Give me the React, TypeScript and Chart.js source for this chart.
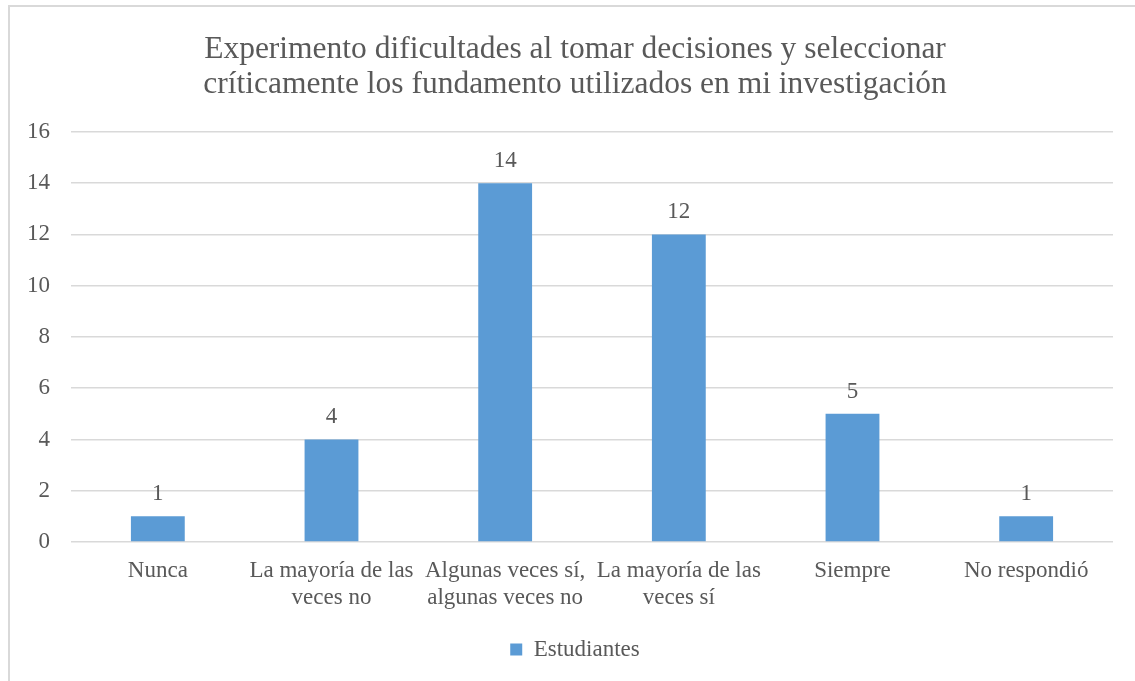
import React, { useEffect, useRef } from "react";
import { Chart, registerables } from "chart.js";

Chart.register(...registerables);

const titleLines = [
  "Experimento dificultades al tomar decisiones y seleccionar",
  "críticamente los fundamento utilizados en mi investigación",
];
const categories: string[][] = [
  ["Nunca"],
  ["La mayoría de las", "veces no"],
  ["Algunas veces sí,", "algunas veces no"],
  ["La mayoría de las", "veces sí"],
  ["Siempre"],
  ["No respondió"],
];
const seriesName = "Estudiantes";
const values = [1, 4, 14, 12, 5, 1];
const yMin = 0;
const yMax = 16;
const yStep = 2;

const FONT = "'Liberation Serif', 'Times New Roman', serif";
const TEXT = "#595959";
const BAR = "#5B9BD5";
const GRID = "#D9D9D9";

const dataLabels = {
  id: "dataLabels",
  afterDatasetsDraw(chart: any) {
    const ctx = chart.ctx;
    ctx.save();
    ctx.font = `23px ${FONT}`;
    ctx.fillStyle = TEXT;
    ctx.textAlign = "center";
    ctx.textBaseline = "alphabetic";
    chart.data.datasets.forEach((ds: any, i: number) => {
      const meta = chart.getDatasetMeta(i);
      meta.data.forEach((el: any, j: number) => {
        ctx.fillText(String(ds.data[j]), el.x, el.y - 16);
      });
    });
    ctx.restore();
  },
};

export default function App() {
  const ref = useRef<HTMLCanvasElement | null>(null);
  useEffect(() => {
    if (!ref.current) return;
    const chart = new Chart(ref.current, {
      type: "bar",
      data: {
        labels: categories,
        datasets: [
          {
            label: seriesName,
            data: values,
            backgroundColor: BAR,
            borderWidth: 0,
            barPercentage: 0.31,
            categoryPercentage: 1,
          },
        ],
      },
      options: {
        responsive: false,
        animation: false,
        layout: { padding: { left: 0, right: 0, top: 0, bottom: 10 } },
        plugins: {
          title: {
            display: true,
            text: titleLines,
            color: TEXT,
            font: { family: FONT, size: 31.5, weight: "normal", lineHeight: 1.11 },
            padding: { top: 25, bottom: 30 },
          },
          legend: {
            display: true,
            position: "bottom",
            labels: {
              color: TEXT,
              font: { family: FONT, size: 23 },
              boxWidth: 12,
              boxHeight: 12,
              padding: 10,
            },
          },
          tooltip: { enabled: false },
        },
        scales: {
          x: {
            grid: { display: false, drawTicks: false },
            border: { display: false },
            ticks: {
              color: TEXT,
              font: { family: FONT, size: 23, lineHeight: 1.2 },
              padding: 15,
              maxRotation: 0,
              autoSkip: false,
            },
            afterFit: (s: any) => {
              s.height = 86;
            },
          },
          y: {
            min: yMin,
            max: yMax,
            grid: { color: GRID, lineWidth: 1.5, drawTicks: false },
            border: { display: false },
            ticks: {
              stepSize: yStep,
              color: TEXT,
              font: { family: FONT, size: 23 },
              padding: 21,
            },
            afterFit: (s: any) => {
              s.width = 61;
            },
          },
          spacer: {
            type: "linear",
            position: "right",
            display: true,
            grid: { display: false, drawOnChartArea: false, drawTicks: false },
            border: { display: false },
            ticks: { display: false },
            afterFit: (s: any) => {
              s.width = 27;
            },
          },
        },
      },
      plugins: [dataLabels],
    });
    return () => chart.destroy();
  }, []);

  return (
    <div
      style={{
        position: "fixed",
        left: 0,
        top: 0,
        width: 1135,
        height: 681,
        overflow: "hidden",
        background: "#fff",
      }}
    >
      <div
        style={{
          position: "absolute",
          left: 8,
          top: 5,
          width: 1300,
          height: 900,
          borderLeft: `2px solid ${GRID}`,
          borderTop: `2px solid ${GRID}`,
        }}
      />
      <canvas
        ref={ref}
        width={1130}
        height={674}
        style={{ position: "absolute", left: 10, top: 7, width: 1130, height: 674 }}
      />
    </div>
  );
}
